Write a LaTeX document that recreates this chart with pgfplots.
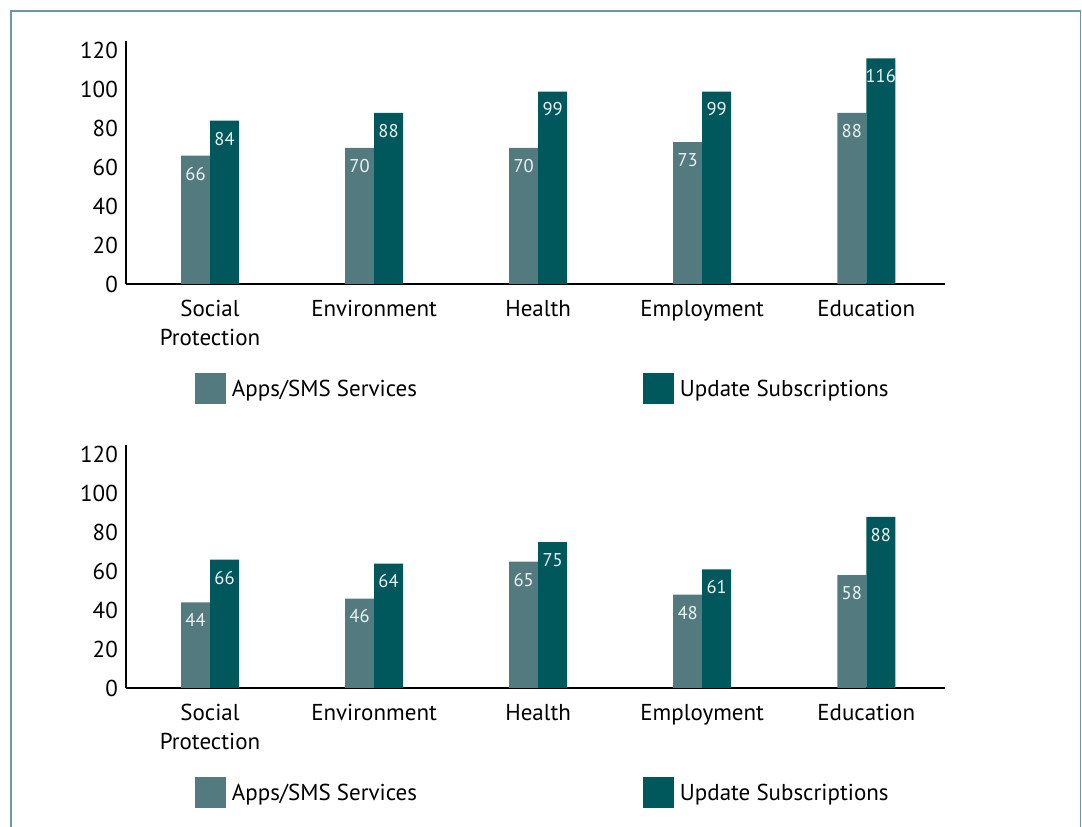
\documentclass[border=0pt]{standalone}
\usepackage{pgfplots}
\pgfplotsset{compat=1.18}
\usepackage{fontspec}
\setmainfont{PT Sans}
\definecolor{lightbar}{RGB}{82,122,127}
\definecolor{darkbar}{RGB}{0,87,92}
\definecolor{framec}{RGB}{106,154,160}
\pgfplotsset{
 mystyle/.style={
  scale only axis, width=819pt, height=243pt,
  xmin=-0.512, xmax=4.48, ymin=0, ymax=125,
  axis x line=bottom, axis y line=left,
  x axis line style={-, line width=2.5pt},
  y axis line style={-, line width=2pt},
  ytick={0,20,...,120}, xtick={0,...,4},
  xticklabels={{Social\\Protection},Environment,Health,Employment,Education},
  major tick length=0pt,
  tick style={draw=none},
  ticklabel style={font=\fontsize{23}{29}\selectfont},
  /pgf/number format/assume math mode=true,
  xticklabel style={align=center, anchor=north, inner sep=0pt, yshift=-16pt},
  yticklabel style={anchor=east, inner sep=0pt, xshift=-8pt},
  ybar=0pt, bar width=29pt,
  nodes near coords,
  every node near coord/.append style={font=\fontsize{18.5}{18.5}\selectfont, color=white!93!darkbar, anchor=north, inner sep=0pt, yshift=-11pt},
  legend columns=2,
  legend style={at={(0.0842,-0.432)}, anchor=west, draw=none, fill=none,
    inner sep=0pt, outer sep=0pt, column sep=0pt,
    font=\fontsize{23}{23}\selectfont,
    nodes={inner sep=0pt}, cells={anchor=west}},
 }
}
\begin{document}
\begin{tikzpicture}
\useasboundingbox (0,0) rectangle (1082pt,827pt);
\draw[framec, line width=1.5pt] (11pt,0pt) -- (11pt,816pt) -- (1080.5pt,816pt) -- (1080.5pt,0pt);
\begin{axis}[mystyle, at={(126pt,543pt)}, anchor=south west]
\addplot[fill=lightbar, draw=none, legend image code/.code={\fill[lightbar] (0pt,-15.5pt) rectangle (31pt,15.5pt);}] coordinates {(0,66) (1,70) (2,70) (3,73) (4,88)};
\addlegendentry{\hspace*{6pt}\makebox[411pt][l]{Apps/SMS Services}}
\addplot[fill=darkbar, draw=none, legend image code/.code={\fill[darkbar] (0pt,-15.5pt) rectangle (31pt,15.5pt);}] coordinates {(0,84) (1,88) (2,99) (3,99) (4,116)};
\addlegendentry{\hspace*{6pt}Update Subscriptions}
\end{axis}
\begin{axis}[mystyle, at={(126pt,139pt)}, anchor=south west]
\addplot[fill=lightbar, draw=none, legend image code/.code={\fill[lightbar] (0pt,-15.5pt) rectangle (31pt,15.5pt);}] coordinates {(0,44) (1,46) (2,65) (3,48) (4,58)};
\addlegendentry{\hspace*{6pt}\makebox[411pt][l]{Apps/SMS Services}}
\addplot[fill=darkbar, draw=none, legend image code/.code={\fill[darkbar] (0pt,-15.5pt) rectangle (31pt,15.5pt);}] coordinates {(0,66) (1,64) (2,75) (3,61) (4,88)};
\addlegendentry{\hspace*{6pt}Update Subscriptions}
\end{axis}
\end{tikzpicture}
\end{document}
